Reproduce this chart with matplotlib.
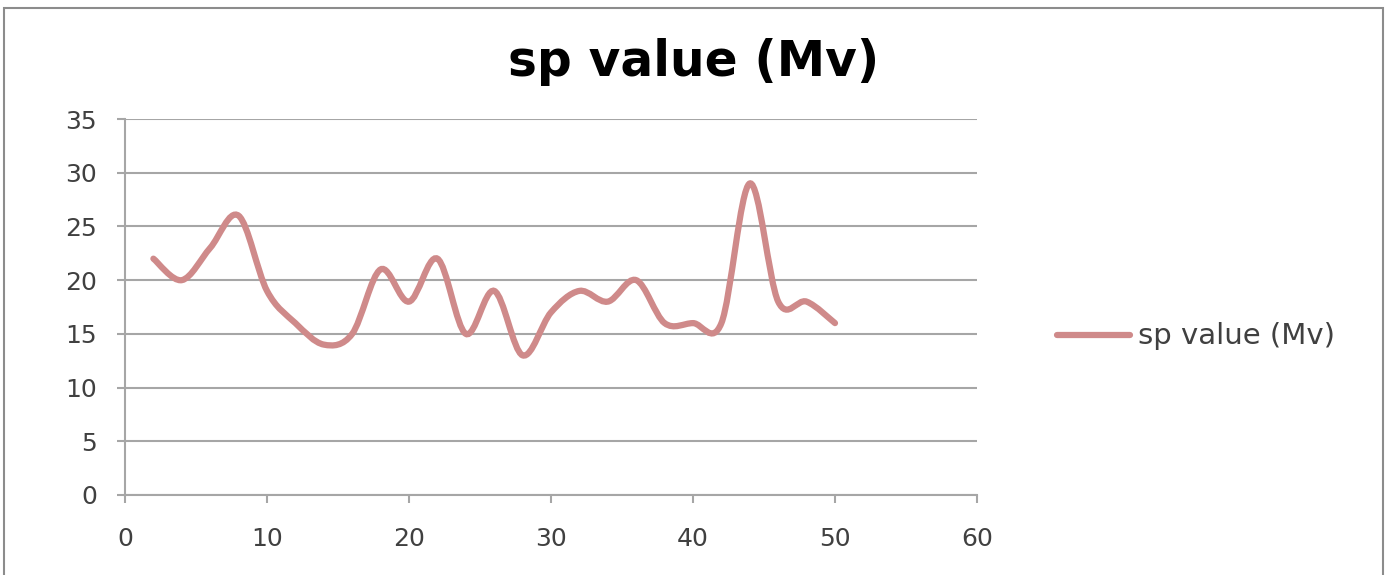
import numpy as np
import matplotlib.pyplot as plt
from matplotlib.path import Path
from matplotlib.patches import PathPatch, Rectangle
from matplotlib.lines import Line2D

# readings
depth = [2, 4, 6, 8, 10, 12, 14, 16, 18, 20, 22, 24, 26, 28, 30, 32, 34, 36, 38, 40, 42, 44, 46, 48, 50]
sp_value = [22, 20, 23, 26, 19, 16, 14, 15, 21, 18, 22, 15, 19, 13, 17, 19, 18, 20, 16, 16, 16, 29, 18, 18, 16]

LINE_COLOR = '#cf8a8a'
GRID_COLOR = '#a6a6a6'
TEXT_COLOR = '#404040'


def smooth_path(xs, ys):
    """Bezier path through the points, spreadsheet-style smoothed line"""
    pts = np.column_stack([xs, ys]).astype(float)
    n = len(pts)
    verts = [pts[0]]
    codes = [Path.MOVETO]
    for i in range(n - 1):
        p0 = pts[i - 1] if i > 0 else pts[i]
        p1 = pts[i]
        p2 = pts[i + 1]
        p3 = pts[i + 2] if i + 2 < n else pts[i + 1]
        c1 = p1 + (p2 - p0) / 6.0
        c2 = p2 - (p3 - p1) / 6.0
        verts += [c1, c2, p2]
        codes += [Path.CURVE4] * 3
    return Path(verts, codes)


fig = plt.figure(figsize=(13.91, 5.75), dpi=100)
W, H = 1391, 575
ax = fig.add_axes([125 / W, (H - 495) / H, (977 - 125) / W, (495 - 119) / H])

ax.add_patch(PathPatch(smooth_path(depth, sp_value), facecolor='none',
                       edgecolor=LINE_COLOR, lw=4.5, capstyle='round', zorder=3))

ax.set_xlim(0, 60)
ax.set_ylim(0, 35)
ax.set_xticks(range(0, 61, 10))
ax.set_yticks(range(0, 36, 5))
ax.grid(axis='y', color=GRID_COLOR, lw=1.5)
ax.set_axisbelow(True)
for side in ['top', 'right']:
    ax.spines[side].set_visible(False)
for side in ['left', 'bottom']:
    ax.spines[side].set_color(GRID_COLOR)
    ax.spines[side].set_linewidth(1.5)
ax.tick_params(axis='both', direction='out', length=6, width=1.5, color=GRID_COLOR,
               labelsize=18, labelcolor=TEXT_COLOR)
ax.tick_params(axis='x', pad=17)
ax.tick_params(axis='y', pad=14)

fig.text(694 / W, 1 - 62 / H, 'sp value (Mv)', ha='center', va='center',
         fontsize=35, fontweight='bold', color='black', family='DejaVu Sans')

# legend entry on the right
fig.add_artist(Line2D([1057 / W, 1130 / W], [1 - 335 / H, 1 - 335 / H],
                      color=LINE_COLOR, lw=4.5, solid_capstyle='round'))
fig.text(1138 / W, 1 - 336 / H, 'sp value (Mv)', ha='left', va='center',
         fontsize=21, color=TEXT_COLOR)

# chart area border
fig.add_artist(Rectangle((4 / W, -0.05), (1383 - 4) / W, 1.05 - 8 / H,
                         transform=fig.transFigure, fill=False,
                         edgecolor='#8c8c8c', lw=1.5))

fig.savefig('out.png', dpi=100)
